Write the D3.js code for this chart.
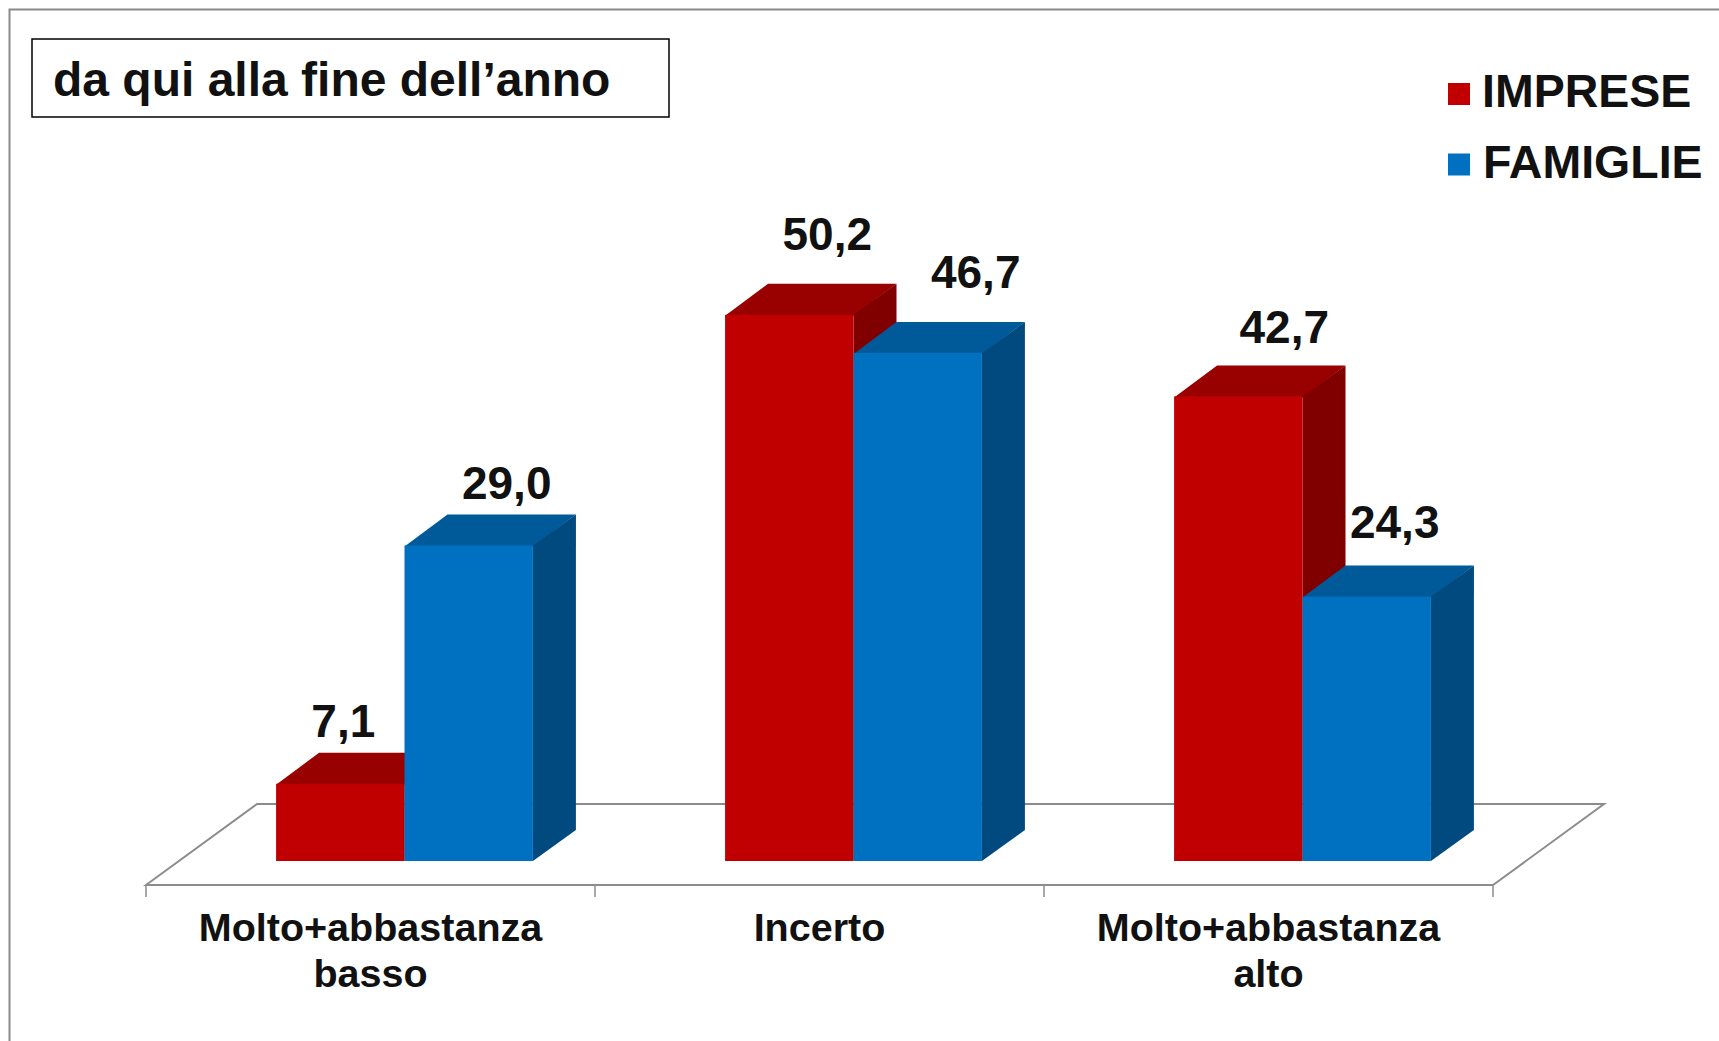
<!DOCTYPE html>
<html>
<head>
<meta charset="utf-8">
<title>da qui alla fine dell'anno</title>
<script src="https://cdn.jsdelivr.net/npm/d3@7"></script>
<style>
  html, body { margin: 0; background: #fff; }
  svg { display: block; }
  text { font-family: "Liberation Sans", Arial, sans-serif; font-weight: 700; fill: #111; }
</style>
</head>
<body>
<div id="chart"></div>
<script>
const title = "da qui alla fine dell’anno";
const categories = [["Molto+abbastanza", "basso"], ["Incerto"], ["Molto+abbastanza", "alto"]];
const seriesNames = ["IMPRESE", "FAMIGLIE"];
const imprese = [7.1, 50.2, 42.7];
const famiglie = [29.0, 46.7, 24.3];

// hand placed data labels in the original: offset from the top of each bar
const nudgeImprese = [[3, -47], [38, -65], [46, -53]];
const nudgeFamiglie = [[38, -46], [58, -65], [28, -59]];

const W = 1719, H = 1041;
const floorFront = 885, floorBack = 804, floorLeft = 146, floorRight = 1493;
const depthX = 43, depthY = 31;
const baseY = 861;

const fmt = v => v.toFixed(1).replace(".", ",");

const colors = {
  IMPRESE:  { front: "#c00000", top: "#990000", side: "#800000" },
  FAMIGLIE: { front: "#0070c0", top: "#005a9a", side: "#004a80" }
};

const svg = d3.select("#chart").append("svg").attr("width", W).attr("height", H);

/* ---------- frame + title ---------- */
svg.append("path")
  .attr("d", `M9.5,${H} V9.5 H${W}`)
  .attr("fill", "none").attr("stroke", "#8a8a8a").attr("stroke-width", 2);

svg.append("rect")
  .attr("x", 32).attr("y", 39).attr("width", 637).attr("height", 78)
  .attr("fill", "#fff").attr("stroke", "#000").attr("stroke-width", 1.5);

svg.append("text").attr("x", 53).attr("y", 96)
  .style("font-size", "48px").text(title);

/* ---------- scales ---------- */
const catIdx = d3.range(categories.length);
const x = d3.scaleBand().domain(catIdx).range([floorLeft, floorRight]);
const bars = d3.scaleBand().domain(catIdx).range([floorLeft + 34, floorRight + 34])
  .paddingInner(0.428).paddingOuter(0.214);
const inner = d3.scaleBand().domain(seriesNames).range([0, bars.bandwidth()]);
const y = d3.scaleLinear().domain([0, 60]).range([baseY, baseY - 60 * 10.88]);

/* ---------- floor ---------- */
svg.append("path")
  .attr("d", `M${floorLeft},${floorFront} L${floorLeft + 111},${floorBack} H${floorRight + 111} L${floorRight},${floorFront} Z`)
  .attr("fill", "#fff").attr("stroke", "#8c8c8c").attr("stroke-width", 2);

svg.append("g").selectAll("line")
  .data(d3.range(categories.length + 1))
  .join("line")
  .attr("x1", i => floorLeft + i * x.step()).attr("x2", i => floorLeft + i * x.step())
  .attr("y1", floorFront).attr("y2", floorFront + 12)
  .attr("stroke", "#8c8c8c").attr("stroke-width", 1.5);

/* ---------- bars ---------- */
const rows = catIdx.flatMap(i => [
  { i, s: "IMPRESE", v: imprese[i], nudge: nudgeImprese[i] },
  { i, s: "FAMIGLIE", v: famiglie[i], nudge: nudgeFamiglie[i] }
]);

const g = svg.append("g").selectAll("g").data(rows).join("g");

const left = d => bars(d.i) + inner(d.s);
const line = d3.line();

// top face
g.append("path")
  .attr("fill", d => colors[d.s].top)
  .attr("d", d => {
    const x0 = left(d), x1 = x0 + inner.bandwidth(), t = y(d.v);
    return line([[x0, t + 1], [x0 + depthX, t - depthY], [x1 + depthX, t - depthY], [x1, t + 1]]) + "Z";
  });

// side face
g.append("path")
  .attr("fill", d => colors[d.s].side)
  .attr("d", d => {
    const x1 = left(d) + inner.bandwidth(), t = y(d.v);
    return line([[x1, t], [x1 + depthX, t - depthY], [x1 + depthX, y(0) - depthY], [x1, y(0)]]) + "Z";
  });

// front face
g.append("rect")
  .attr("x", left)
  .attr("y", d => y(d.v))
  .attr("width", inner.bandwidth())
  .attr("height", d => y(0) - y(d.v))
  .attr("fill", d => colors[d.s].front);

/* ---------- value labels ---------- */
svg.append("g").selectAll("text").data(rows).join("text")
  .attr("x", d => left(d) + inner.bandwidth() / 2 + d.nudge[0])
  .attr("y", d => y(d.v) + d.nudge[1])
  .attr("text-anchor", "middle")
  .style("font-size", "46px")
  .text(d => fmt(d.v));

/* ---------- category labels ---------- */
const catText = svg.append("g").selectAll("text").data(catIdx).join("text")
  .attr("text-anchor", "middle")
  .style("font-size", "39.5px");

catText.selectAll("tspan").data(i => categories[i].map(t => ({ i, t }))).join("tspan")
  .attr("x", d => x(d.i) + x.bandwidth() / 2)
  .attr("y", (d, j) => 941 + j * 46)
  .text(d => d.t);

/* ---------- legend ---------- */
const legend = svg.append("g").selectAll("g").data(seriesNames).join("g")
  .attr("transform", (d, i) => `translate(1448,${83 + i * 70.5})`);

legend.append("rect").attr("width", 22).attr("height", 22)
  .attr("fill", d => colors[d].front);

legend.append("text").attr("x", (d, i) => 34 + i).attr("y", 24)
  .style("font-size", "46.5px").text(d => d);
</script>
</body>
</html>
